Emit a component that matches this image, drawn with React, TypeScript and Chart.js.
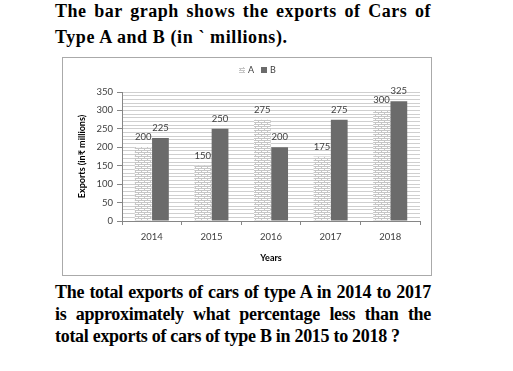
import React, { useEffect, useRef } from 'react';
import { Chart, registerables } from 'chart.js';
Chart.register(...registerables);

const years = ['2014', '2015', '2016', '2017', '2018'];
const typeA = [200, 150, 275, 175, 300];
const typeB = [225, 250, 200, 275, 325];
const yTickLabels = [0, 50, 100, 150, 200, 250, 300, 350];
const seriesNames = ['A', 'B'];
const titleLines = ['The bar graph shows the exports of Cars of', 'Type A and B (in ` millions).'];
const questionLines = [
  'The total exports of cars of type A in 2014 to 2017',
  'is approximately what percentage less than the',
  'total exports of cars of type B in 2015 to 2018 ?',
];

function makePattern(): CanvasPattern | string {
  const c = document.createElement('canvas');
  c.width = 6;
  c.height = 4;
  const g = c.getContext('2d');
  if (!g) return '#eeeeee';
  g.fillStyle = '#ffffff';
  g.fillRect(0, 0, 6, 4);
  g.fillStyle = '#c6c6c6';
  g.fillRect(0, 0, 6, 1);
  g.fillRect(0, 2, 6, 1);
  g.fillRect(0, 1, 1, 1);
  g.fillRect(3, 3, 1, 1);
  return g.createPattern(c, 'repeat') || '#eeeeee';
}

const valueLabels = {
  id: 'valueLabels',
  afterDatasetsDraw(chart: any) {
    const ctx = chart.ctx;
    ctx.save();
    ctx.font = '9.5px Lato';
    ctx.fillStyle = '#404040';
    ctx.textAlign = 'center';
    ctx.textBaseline = 'middle';
    chart.data.datasets.forEach((ds: any, i: number) => {
      chart.getDatasetMeta(i).data.forEach((bar: any, j: number) => {
        ctx.fillText(String(ds.data[j]), bar.x, bar.y - 10);
      });
    });
    ctx.restore();
  },
};

const customLegend = {
  id: 'customLegend',
  afterDraw(chart: any) {
    const ctx = chart.ctx;
    ctx.save();
    ctx.font = '9px Lato';
    ctx.textBaseline = 'middle';
    ctx.textAlign = 'left';
    let x = 176;
    const y = 12;
    chart.data.datasets.forEach((ds: any) => {
      ctx.fillStyle = ds.backgroundColor;
      ctx.fillRect(x, y - 3, 6, 6);
      ctx.fillStyle = '#404040';
      ctx.fillText(ds.label, x + 9, y);
      x += 22;
    });
    ctx.restore();
  },
};

function BarChart() {
  const ref = useRef<HTMLCanvasElement>(null);
  useEffect(() => {
    if (!ref.current) return;
    const pattern = makePattern();
    const chart = new Chart(ref.current, {
      type: 'bar',
      data: {
        labels: years,
        datasets: [
          { label: seriesNames[0], data: typeA, backgroundColor: pattern as any, categoryPercentage: 0.58, barPercentage: 0.97 },
          { label: seriesNames[1], data: typeB, backgroundColor: '#6b6b6b', categoryPercentage: 0.58, barPercentage: 0.97 },
        ],
      },
      options: {
        responsive: false,
        animation: false,
        devicePixelRatio: 1,
        layout: { padding: { top: 34, right: 11, left: 0, bottom: 0 } },
        plugins: { legend: { display: false }, tooltip: { enabled: false } },
        scales: {
          x: {
            grid: { display: true, drawOnChartArea: false, offset: true, tickLength: 4, color: '#868686' },
            border: { color: '#868686' },
            ticks: { font: { family: 'Lato', size: 9.5 }, color: '#404040', padding: 6 },
            title: {
              display: true,
              text: 'Years',
              font: { family: 'Lato', size: 9, weight: 'bold' },
              color: '#000000',
              padding: { top: 0, bottom: 12 },
            },
            afterFit: (s: any) => { s.height = 54; },
          },
          y: {
            min: 0,
            max: 350,
            ticks: {
              stepSize: 10,
              autoSkip: false,
              callback: (v: any) => (yTickLabels.includes(Number(v)) ? String(v) : ''),
              font: { family: 'Lato', size: 9.5 },
              color: '#404040',
              padding: 4,
            },
            grid: {
              color: '#cfcfcf',
              tickLength: 5,
              tickColor: (c: any) => (c.tick && Number(c.tick.value) % 50 === 0 ? '#868686' : 'rgba(0,0,0,0)'),
            },
            border: { color: '#868686' },
            title: {
              display: true,
              text: 'Exports (in₹ millions)',
              font: { family: 'Lato', size: 9, weight: 'bold' },
              color: '#000000',
              padding: { top: 14, bottom: 0 },
            },
            afterFit: (s: any) => { s.width = 59; },
          },
        },
      },
      plugins: [valueLabels, customLegend],
    });
    return () => chart.destroy();
  }, []);
  return <canvas ref={ref} width={368} height={217} style={{ width: 368, height: 217, display: 'block' }} />;
}

export default function App() {
  const serif = '"Liberation Serif", "Times New Roman", serif';
  const lineStyle = (top: number, justify: boolean, fs: number, ls: number): React.CSSProperties => ({
    position: 'absolute',
    left: 55,
    top,
    width: 376,
    fontSize: fs,
    lineHeight: '20px',
    letterSpacing: ls,
    textAlign: justify ? 'justify' : 'left',
    textAlignLast: justify ? 'justify' : 'left',
    whiteSpace: justify ? 'normal' : 'nowrap',
  });
  return (
    <div style={{ position: 'fixed', left: 0, top: 0, width: 513, height: 371, background: '#fff', fontFamily: serif, fontWeight: 'bold', color: '#000' }}>
      <div style={lineStyle(0.5, true, 18, 0.55)}>{titleLines[0]}</div>
      <div style={lineStyle(27, false, 18, 0.6)}>{titleLines[1]}</div>
      <div style={{ position: 'absolute', left: 62, top: 57, width: 370, height: 219, border: '1px solid #aaaaaa', boxSizing: 'border-box' }}>
        <BarChart />
      </div>
      <div style={lineStyle(282, true, 18, -0.3)}>{questionLines[0]}</div>
      <div style={lineStyle(304, true, 18, -0.3)}>{questionLines[1]}</div>
      <div style={lineStyle(326, false, 18, -0.3)}>{questionLines[2]}</div>
    </div>
  );
}
